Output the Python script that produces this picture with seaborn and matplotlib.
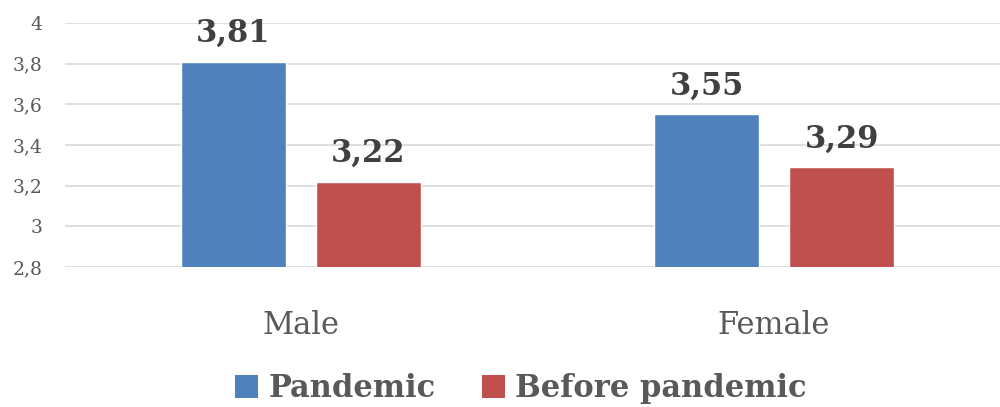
import matplotlib
matplotlib.use("Agg")
import matplotlib.pyplot as plt
from matplotlib.patches import Patch
import pandas as pd
import seaborn as sns

# Mean scores by gender, before and during the pandemic
genders = ["Male", "Female"]
periods = ["Pandemic", "Before pandemic"]
pandemic_scores = [3.81, 3.55]
before_scores = [3.22, 3.29]
y_ticks = [2.8, 3.0, 3.2, 3.4, 3.6, 3.8, 4.0]
colors = ["#4F81BD", "#C0504D"]

df = pd.DataFrame({
    "gender": genders * 2,
    "period": [periods[0]] * len(genders) + [periods[1]] * len(genders),
    "score": pandemic_scores + before_scores,
})

sns.set_theme(style="white")
plt.rcParams["font.family"] = ["DejaVu Serif", "DejaVu Sans"]

fig = plt.figure(figsize=(10, 4.07), dpi=100)
ax = fig.add_axes([0.0645, 0.344, 0.946, 0.5995])

sns.barplot(data=df, x="gender", y="score", hue="period", order=genders,
            hue_order=periods, palette=colors, width=0.571, gap=0.222,
            saturation=1, legend=False, ax=ax)

ax.set_ylim(y_ticks[0], y_ticks[-1])
ax.set_yticks(y_ticks)
ax.set_yticklabels([f"{t:g}".replace(".", ",") for t in y_ticks])
ax.set_xlim(-0.5, 1.5)
ax.grid(axis="y", color="#D9D9D9", linewidth=1.2)
ax.set_axisbelow(True)
for s in ax.spines.values():
    s.set_visible(False)
ax.set_xlabel("")
ax.set_ylabel("")
ax.tick_params(axis="y", length=0, pad=16, labelsize=13.5, labelcolor="#595959")
ax.tick_params(axis="x", length=0, pad=31, labelsize=22, labelcolor="#595959")

# Value labels above each bar
for cont in ax.containers:
    for bar in cont:
        h = bar.get_height()
        ax.annotate(f"{h:.2f}".replace(".", ","),
                    (bar.get_x() + bar.get_width() / 2, h),
                    xytext=(0, 14), textcoords="offset points",
                    ha="center", va="baseline", fontsize=22,
                    fontweight="bold", color="#404040")

handles = [Patch(facecolor=c, edgecolor="none", label=p) for c, p in zip(colors, periods)]
fig.legend(handles=handles, loc="center", bbox_to_anchor=(0.521, 0.045), ncol=2,
           frameon=False, handlelength=0.75, handleheight=0.75, handletextpad=0.35,
           columnspacing=1.5, prop={"size": 22, "weight": "bold"}, labelcolor="#595959")

fig.savefig("out.png", dpi=100)
